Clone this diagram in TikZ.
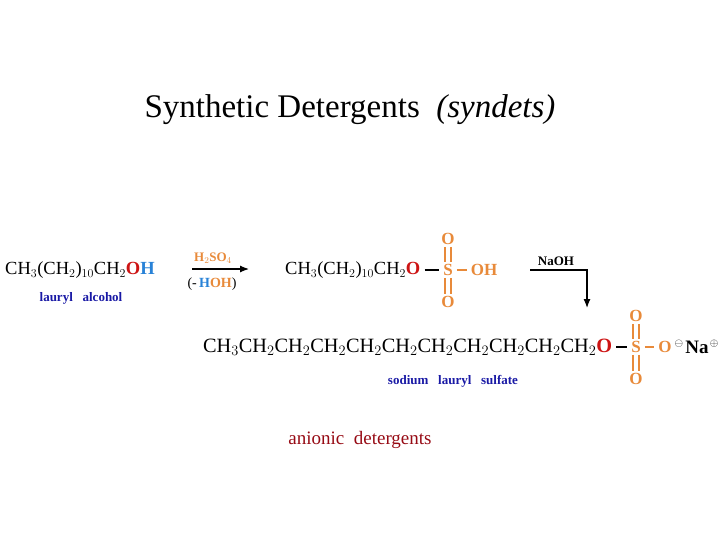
\documentclass[tikz,border=0pt]{standalone}
\usepackage{fontspec}
\setmainfont{Liberation Serif}
\usetikzlibrary{arrows.meta}
\begin{document}
\begin{tikzpicture}[x=1pt,y=-1pt,
  chem/.style={inner sep=0pt,font=\fontsize{18.5}{18.5}\selectfont},
  lab/.style={inner sep=0pt,font=\fontsize{13}{13}\selectfont\bfseries,text=dblue},
  orn/.style={inner sep=0pt,font=\fontsize{17}{17}\selectfont\bfseries,text=orn},
  bond/.style={line width=1.3pt,shorten <=4pt,shorten >=4pt},
  dbond/.style={line width=1.1pt,draw=orn,shorten <=2pt,shorten >=2pt},
  arr/.style={line width=1.2pt,-{Latex[length=9pt,width=7pt]}}]
\definecolor{orn}{RGB}{232,138,58}
\definecolor{rd}{RGB}{205,20,20}
\definecolor{bl}{RGB}{40,130,215}
\definecolor{dblue}{RGB}{25,25,165}
\definecolor{maroon}{RGB}{150,10,20}
\useasboundingbox (0,0) rectangle (720,540);
\node[inner sep=0pt,font=\fontsize{33}{33}\selectfont] (title) at (350,110) {Synthetic Detergents\ \ \textit{(syndets)}};
% row 1
\node[chem,anchor=west] (a) at (5,270) {CH$_3$(CH$_2$)$_{10}$CH$_2$\textcolor{rd}{\textbf{O}}\textcolor{bl}{\textbf{H}}};
\node[lab] (la) at (81,298) {lauryl\ \ \ alcohol};
\coordinate (r1s) at (192,269); \coordinate (r1e) at (249,269);
\draw[arr] (r1s) -- (r1e);
\node[inner sep=0pt,font=\fontsize{13}{13}\selectfont\bfseries,text=orn] (h2so4) at (213,258) {H$_2$SO$_4$};
\node[inner sep=0pt,font=\fontsize{14}{14}\selectfont] (hoh) at (212,284) {(-\,\textcolor{bl}{\textbf{H}}\textcolor{orn}{\textbf{OH}})};
\node[chem,anchor=west] (b) at (285,270) {CH$_3$(CH$_2$)$_{10}$CH$_2$\textcolor{rd}{\textbf{O}}};
\node[orn] (s1) at (448,270) {S};
\node[orn] (o1t) at (448,239) {O};
\node[orn] (o1b) at (448,302) {O};
\node[orn] (oh1) at (484,270) {OH};
\draw[bond] (b.east) -- (s1.west);
\draw[dbond,line width=1.3pt,shorten <=4pt,shorten >=4pt] (s1.east) -- (oh1.west);
\draw[dbond] ([xshift=-3pt]o1t.south) -- ([xshift=-3pt]s1.north);
\draw[dbond] ([xshift=3pt]o1t.south) -- ([xshift=3pt]s1.north);
\draw[dbond] ([xshift=-3pt]s1.south) -- ([xshift=-3pt]o1b.north);
\draw[dbond] ([xshift=3pt]s1.south) -- ([xshift=3pt]o1b.north);
\node[inner sep=0pt,font=\fontsize{13}{13}\selectfont\bfseries] (naoh) at (556,261) {NaOH};
\coordinate (r2s) at (530,270); \coordinate (r2c) at (587,270); \coordinate (r2e) at (587,308);
\draw[arr] (r2s) -- (r2c) -- (r2e);
% row 3
\node[chem,anchor=west,font=\fontsize{20.3}{20.3}\selectfont] (c) at (203,347) {CH$_3$CH$_2$CH$_2$CH$_2$CH$_2$CH$_2$CH$_2$CH$_2$CH$_2$CH$_2$CH$_2$\textcolor{rd}{\textbf{O}}};
\node[orn] (s2) at (636,347) {S};
\node[orn] (o2t) at (636,316) {O};
\node[orn] (o2b) at (636,379) {O};
\node[orn] (o2) at (665,347) {O};
\node[inner sep=0pt,font=\fontsize{11}{11}\selectfont] (neg) at (679,344) {$\ominus$};
\node[chem,font=\fontsize{19}{19}\selectfont\bfseries] (na) at (697,347) {Na};
\node[inner sep=0pt,font=\fontsize{11}{11}\selectfont] (pos) at (714,344) {$\oplus$};
\draw[bond] (c.east) -- (s2.west);
\draw[dbond,line width=1.3pt,shorten <=4pt,shorten >=4pt] (s2.east) -- (o2.west);
\draw[dbond] ([xshift=-3pt]o2t.south) -- ([xshift=-3pt]s2.north);
\draw[dbond] ([xshift=3pt]o2t.south) -- ([xshift=3pt]s2.north);
\draw[dbond] ([xshift=-3pt]s2.south) -- ([xshift=-3pt]o2b.north);
\draw[dbond] ([xshift=3pt]s2.south) -- ([xshift=3pt]o2b.north);
\node[lab] (sls) at (453,381) {sodium\ \ \ lauryl\ \ \ sulfate};
\node[inner sep=0pt,font=\fontsize{19}{19}\selectfont,text=maroon] (an) at (360,440) {anionic\ \ detergents};
\end{tikzpicture}
\end{document}
